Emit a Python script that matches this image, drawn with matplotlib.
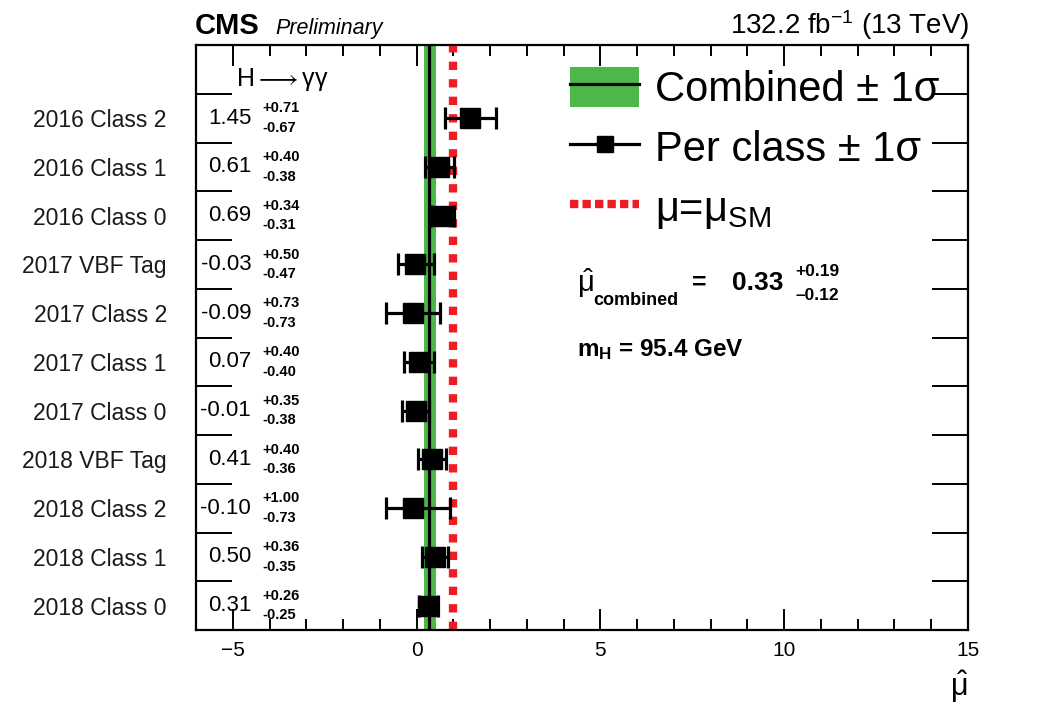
import matplotlib.pyplot as plt
from matplotlib.lines import Line2D
from matplotlib.patches import Patch
from matplotlib.legend_handler import HandlerTuple
from matplotlib.ticker import FixedLocator, MultipleLocator

plt.rcParams['font.family'] = ['Liberation Sans', 'DejaVu Sans']
plt.rcParams['mathtext.fontset'] = 'custom'
plt.rcParams['mathtext.rm'] = 'Liberation Sans'
plt.rcParams['mathtext.it'] = 'Liberation Sans'
plt.rcParams['mathtext.bf'] = 'Liberation Sans:bold'

# per-class signal strengths, top row first
categories = ['2016 Class 2', '2016 Class 1', '2016 Class 0', '2017 VBF Tag',
              '2017 Class 2', '2017 Class 1', '2017 Class 0', '2018 VBF Tag',
              '2018 Class 2', '2018 Class 1', '2018 Class 0']
mu = [1.45, 0.61, 0.69, -0.03, -0.09, 0.07, -0.01, 0.41, -0.10, 0.50, 0.31]
err_up = [0.71, 0.40, 0.34, 0.50, 0.73, 0.40, 0.35, 0.40, 1.00, 0.36, 0.26]
err_dn = [0.67, 0.38, 0.31, 0.47, 0.73, 0.40, 0.38, 0.36, 0.73, 0.35, 0.25]

mu_comb = 0.33
comb_up = 0.19
comb_dn = 0.12
mu_sm = 1.0
lumi = 132.2
m_higgs = 95.4

GREEN = '#4cb848'
RED = '#ee1d24'

W, H = 1058, 705


def px(x, y):
    # pixel position -> figure fraction
    return x / W, 1 - y / H


fig = plt.figure(figsize=(W / 100, H / 100), dpi=100)
ax = fig.add_axes([196 / W, 1 - 630 / H, (968 - 196) / W, (630 - 45) / H])

n = len(categories)
ypos = [n - 1 - i for i in range(n)]

ax.axvspan(mu_comb - comb_dn, mu_comb + comb_up, color=GREEN, lw=0, zorder=1)
ax.axvline(mu_comb, color='black', lw=2.3, zorder=2)
ax.axvline(mu_sm, color=RED, lw=6, linestyle=(0, (1.0, 1.1)), zorder=2)
ax.errorbar(mu, ypos, xerr=[err_dn, err_up], fmt='s', color='black', ms=14,
            lw=2.3, capsize=8, capthick=2.3, zorder=3)

# value column on the left
for y, m, u, d in zip(ypos, mu, err_up, err_dn):
    ax.text(-4.5, y, f'{m:.2f}', ha='right', va='center', fontsize=16)
    ax.text(-4.2, y + 0.2, f'+{u:.2f}', ha='left', va='center', fontsize=10.5,
            fontweight='bold')
    ax.text(-4.2, y - 0.2, f'-{d:.2f}', ha='left', va='center', fontsize=10.5,
            fontweight='bold')
ax.text(-4.9, 10.8, r'H$\longrightarrow$γγ', ha='left', va='center',
        fontsize=18)

ax.set_xlim(-6, 15)
ax.set_ylim(-0.5, n + 0.5)
ax.xaxis.set_major_locator(MultipleLocator(5))
ax.xaxis.set_minor_locator(MultipleLocator(1))
ax.tick_params(axis='x', which='major', direction='in', top=True, length=15,
               width=1.4, labelsize=15, pad=8)
ax.tick_params(axis='x', which='minor', direction='in', top=True, length=8,
               width=1.4)

ax.set_yticks(ypos)
ax.set_yticklabels(categories, fontsize=16.5, color='#1a1a1a')
ax.yaxis.set_minor_locator(FixedLocator([i + 0.5 for i in range(n)]))
ax.tick_params(axis='y', which='major', length=0, pad=21)
ax.tick_params(axis='y', which='minor', direction='in', right=True, length=26,
               width=1.4)
for s in ax.spines.values():
    s.set_linewidth(1.6)

ax.set_xlabel(r'$\hat{\mathrm{\mu}}$', loc='right', fontsize=22, labelpad=6)

# legend
h_comb = (Patch(facecolor=GREEN, edgecolor='none'),
          Line2D([], [], color='black', lw=2.3))
h_class = Line2D([], [], color='black', lw=2.3, marker='s', ms=12)
h_sm = Line2D([], [], color=RED, lw=6, linestyle=(0, (1.0, 0.5)))
ax.legend([h_comb, h_class, h_sm],
          ['Combined ± 1σ', 'Per class ± 1σ', r'μ=μ$_{\mathrm{SM}}$'],
          loc='upper left', bbox_to_anchor=(0.485, 0.962), frameon=False,
          fontsize=30, handlelength=1.65, handleheight=1.1,
          handletextpad=0.38, labelspacing=0.4, borderaxespad=0,
          borderpad=0, handler_map={tuple: HandlerTuple(ndivide=1)})

# combined result and mass
fig.text(*px(577, 292), r'$\hat{\mathrm{\mu}}$', fontsize=21, va='baseline')
fig.text(*px(593, 305), 'combined', fontsize=13, fontweight='bold',
         va='baseline')
fig.text(*px(692, 283), '=', fontsize=18, fontweight='bold', va='center')
fig.text(*px(732, 283), f'{mu_comb:.2f}', fontsize=19, fontweight='bold',
         va='center')
fig.text(*px(795, 271), f'+{comb_up:.2f}', fontsize=12.5, fontweight='bold',
         va='center')
fig.text(*px(795, 295), f'\u2013{comb_dn:.2f}', fontsize=12.5,
         fontweight='bold', va='center')
fig.text(*px(577, 350), rf'm$_{{\mathbf{{H}}}}$ = {m_higgs} GeV', fontsize=17.5,
         fontweight='bold', va='center')

# header
fig.text(*px(195, 34), 'CMS', fontsize=21, fontweight='bold', va='baseline')
fig.text(*px(275, 34), 'Preliminary', fontsize=15.5, fontstyle='italic',
         va='baseline')
fig.text(*px(970, 34), rf'{lumi} fb$^{{-1}}$ (13 TeV)', fontsize=20,
         ha='right', va='baseline')

fig.savefig('out.png', dpi=100)
